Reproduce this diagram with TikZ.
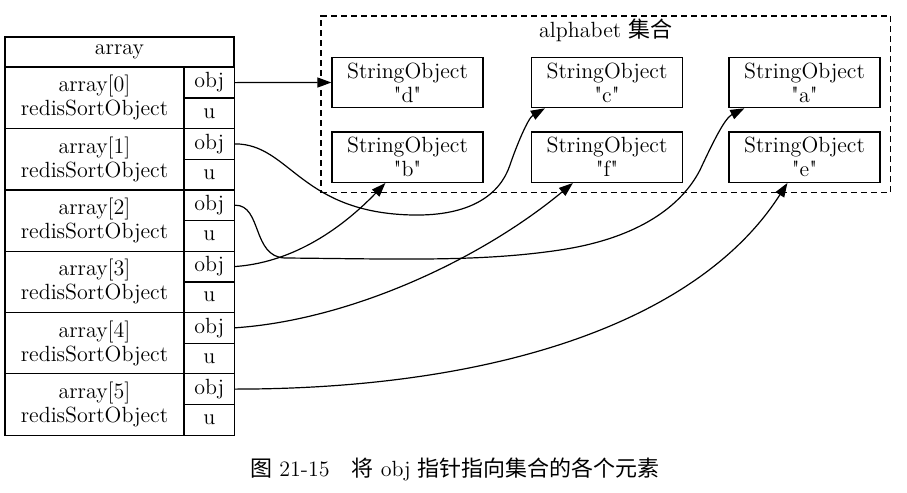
\documentclass[tikz,border=0pt]{standalone}
\usepackage{fontspec}
\newfontfamily\cjk{Noto Sans CJK SC}
\usetikzlibrary{arrows.meta}
\newcommand\qt[1]{\textquotedbl #1\textquotedbl}
\begin{document}
\begin{tikzpicture}
[x=0.5pt,y=-0.5pt,
  font=\fontsize{11}{12}\selectfont,
  celldecorate/.style={shape=rectangle,draw,line width=0.6pt,inner sep=0pt,align=center},%
  strdecorate/.style={shape=rectangle,draw,line width=0.6pt,inner sep=0pt,align=center,
    minimum width=75.5pt,minimum height=25.2pt},%
  clusterdecorate/.style={shape=rectangle,draw,dashed,line width=0.6pt,
    dash pattern=on 3pt off 2pt,minimum width=284.8pt,minimum height=88.3pt},%
  linedecorate/.style={-{Triangle[length=7pt,width=5pt]},line width=0.6pt}]
\useasboundingbox (0,0) rectangle (907,493);
%% cluster
\node (alphabet) at (605.8,104.3) [clusterdecorate] {};
\node (alphabetlabel) at (605.8,30) [] {alphabet {\cjk 集合}};
%% array table
\node (array) at (119.5,52) [celldecorate,minimum width=114.5pt,minimum height=15pt] {array};
\foreach \i in {0,...,5} {
  \pgfmathsetmacro\t{67.3+61.3*\i}
  \node (name\i) at (94.5,\t+30.65) [celldecorate,minimum width=89.5pt,minimum height=30.65pt]
    {array[\i]\\redisSortObject};
  \node (obj\i) at (209.3,\t+15.3) [celldecorate,minimum width=25.3pt,minimum height=15.3pt] {obj};
  \node (u\i) at (209.3,\t+46) [celldecorate,minimum width=25.3pt,minimum height=15.3pt] {u};
}
%% string objects
\node (strd) at (407.5,82.5) [strdecorate] {StringObject\\\qt{d}};
\node (strc) at (607,82.5) [strdecorate] {StringObject\\\qt{c}};
\node (stra) at (804.5,82.5) [strdecorate] {StringObject\\\qt{a}};
\node (strb) at (407.5,157.2) [strdecorate] {StringObject\\\qt{b}};
\node (strf) at (607,157.2) [strdecorate] {StringObject\\\qt{f}};
\node (stre) at (804.5,157.2) [strdecorate] {StringObject\\\qt{e}};
%% caption
\node (caption) at (455,469) [] {{\cjk 图} 21-15\quad{\cjk 将} obj {\cjk 指针指向集合的各个元素}};
%% edges or lines
\draw[linedecorate] (obj0.east) -- (strd.west);
\draw[linedecorate] (obj1.east) .. controls (290,144) and (300,213) .. (413,215)
  .. controls (470,216) and (500,195) .. (510,165)
  .. controls (516,147) and (528,118) .. ([xshift=7pt]strc.south west);
\draw[linedecorate] (obj2.east) .. controls (262,205) and (252,257) .. (285,258)
  .. controls (400,259) and (480,262) .. (560,250)
  .. controls (640,238) and (682,205) .. (700,170)
  .. controls (714,140) and (725,118) .. ([xshift=8pt]stra.south west);
\draw[linedecorate] (obj3.east) .. controls (300,262) and (350,220) .. ([xshift=27pt]strb.south west);
\draw[linedecorate] (obj4.east) .. controls (350,320) and (480,260) .. ([xshift=21pt]strf.south west);
\draw[linedecorate] (obj5.east) .. controls (500,389) and (700,320) .. ([xshift=29.5pt]stre.south west);
\end{tikzpicture}
\end{document}
